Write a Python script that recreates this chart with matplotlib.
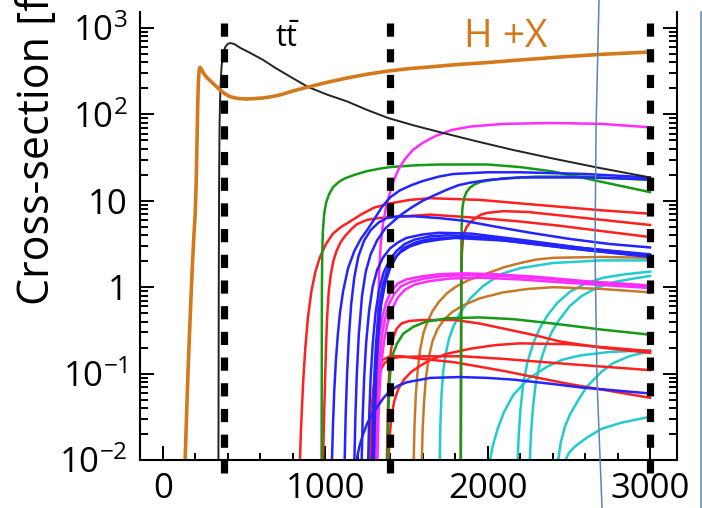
import numpy as np
import matplotlib
matplotlib.use("Agg")
import matplotlib.pyplot as plt
from matplotlib import font_manager
from matplotlib.lines import Line2D
from matplotlib.ticker import FixedLocator, LogLocator, NullFormatter

# fonts: a narrow humanist sans if it is there
names = {f.name for f in font_manager.fontManager.ttflist}
family = 'Liberation Sans Narrow' if 'Liberation Sans Narrow' in names else 'Open Sans'
plt.rcParams['font.family'] = [family, 'DejaVu Sans']
plt.rcParams['mathtext.fontset'] = 'custom'
plt.rcParams['mathtext.rm'] = family
plt.rcParams['mathtext.it'] = family
plt.rcParams['lines.scale_dashes'] = False

# ---- data: (energy [GeV], log10 cross-section [fb]) ----
hx = [(138, -2), (150, -1.3), (157, -0.92), (170, -0.3), (182, 0.23), (192, 0.6),
      (200, 0.85), (206, 1.2), (212, 1.78), (216, 2.15), (220, 2.40), (225, 2.52),
      (230, 2.545), (238, 2.525), (250, 2.48), (270, 2.43), (292, 2.39), (320, 2.34),
      (354, 2.28), (385, 2.235), (415, 2.205), (460, 2.185), (508, 2.178), (560, 2.182),
      (618, 2.19), (670, 2.205), (723, 2.225), (800, 2.27), (895, 2.317), (1010, 2.37),
      (1135, 2.421), (1260, 2.465), (1388, 2.502), (1520, 2.53), (1646, 2.549),
      (1800, 2.575), (2000, 2.60), (2200, 2.63), (2446, 2.664), (2700, 2.695), (3000, 2.722)]

tt = [(343, -2), (345, 0), (347, 1.2), (350, 1.9), (355, 2.3), (362, 2.55), (372, 2.7),
      (385, 2.78), (400, 2.815), (415, 2.826), (440, 2.815), (477, 2.77), (540, 2.71),
      (618, 2.63), (700, 2.53), (800, 2.42), (895, 2.317), (1010, 2.23), (1135, 2.15),
      (1260, 2.05), (1388, 1.958), (1550, 1.87), (1726, 1.785), (1940, 1.685),
      (2157, 1.588), (2400, 1.49), (2662, 1.39), (3000, 1.27)]

green1 = [(978, -2), (979, -1), (980, 0), (982, 0.4), (986, 0.65), (994, 0.85), (1006, 0.98),
          (1025, 1.08), (1050, 1.16), (1085, 1.22), (1122, 1.26), (1180, 1.30), (1250, 1.34),
          (1330, 1.37), (1400, 1.39), (1550, 1.41), (1700, 1.42), (2000, 1.42), (2200, 1.39),
          (2400, 1.34), (2700, 1.22), (3000, 1.10)]
green2 = [(1835, -2), (1837, -0.5), (1838, 0.3), (1840, 0.7), (1845, 0.92), (1855, 1.03),
          (1870, 1.10), (1890, 1.15), (1920, 1.19), (1960, 1.22), (2020, 1.24), (2096, 1.26),
          (2300, 1.28), (2600, 1.28), (3000, 1.24)]
green3 = [(1385, -2), (1390, -1.4), (1396, -1.1), (1405, -0.9), (1420, -0.76), (1443, -0.65),
          (1480, -0.54), (1541, -0.46), (1620, -0.40), (1751, -0.36), (1950, -0.35),
          (2158, -0.37), (2400, -0.42), (2700, -0.49), (3000, -0.55)]

magenta1 = [(1305, -2), (1312, -1.2), (1320, -0.6), (1327, -0.2), (1333, 0.2), (1342, 0.5),
            (1355, 0.72), (1372, 0.90), (1395, 1.07), (1420, 1.22), (1450, 1.36),
            (1490, 1.48), (1541, 1.59), (1600, 1.67), (1680, 1.75), (1780, 1.82),
            (1900, 1.86), (2100, 1.89), (2400, 1.90), (2700, 1.89), (3000, 1.85)]
magenta2 = [(1300, -2), (1305, -1.5), (1312, -1.1), (1322, -0.8), (1335, -0.55),
            (1352, -0.35), (1375, -0.18), (1405, -0.05), (1445, 0.04), (1500, 0.09),
            (1580, 0.12), (1700, 0.15), (1850, 0.16), (2050, 0.15), (2300, 0.12),
            (2600, 0.07), (3000, 0.02)]
magenta3 = [(1312, -2), (1317, -1.5), (1325, -1.1), (1336, -0.8), (1350, -0.56),
            (1368, -0.37), (1392, -0.2), (1425, -0.08), (1467, 0.01), (1525, 0.06),
            (1610, 0.10), (1730, 0.13), (1900, 0.14), (2100, 0.13), (2350, 0.10),
            (2650, 0.05), (3000, 0.01)]
magenta4 = [(1322, -2), (1328, -1.5), (1337, -1.1), (1349, -0.82), (1365, -0.6),
            (1385, -0.41), (1412, -0.25), (1447, -0.12), (1490, -0.03), (1550, 0.03),
            (1640, 0.07), (1770, 0.10), (1950, 0.11), (2200, 0.09), (2500, 0.05),
            (3000, -0.01)]

red1 = [(845, -2), (850, -1.7), (857, -1.4), (866, -1.05), (878, -0.7), (894, -0.35),
        (915, -0.05), (940, 0.18), (968, 0.35), (1005, 0.50), (1048, 0.62), (1100, 0.70),
        (1153, 0.76), (1220, 0.84), (1300, 0.92), (1400, 0.97), (1520, 1.01), (1646, 1.03),
        (1954, 1.01), (2200, 0.97), (2448, 0.93), (2700, 0.89), (3000, 0.85)]
red2 = [(987, -2), (992, -1.6), (999, -1.1), (1005, -0.7), (1012, -0.35), (1022, -0.05),
        (1035, 0.15), (1050, 0.30), (1070, 0.42), (1095, 0.52), (1122, 0.59), (1160, 0.67),
        (1196, 0.73), (1260, 0.78), (1330, 0.80), (1400, 0.81), (1646, 0.84), (1954, 0.80),
        (2200, 0.76), (2448, 0.71), (2700, 0.65), (3000, 0.58)]
red3 = [(1835, -2), (1837, -0.5), (1839, 0.1), (1842, 0.4), (1848, 0.55), (1858, 0.64),
        (1872, 0.70), (1893, 0.75), (1925, 0.80), (1960, 0.84), (1998, 0.86), (2096, 0.88),
        (2250, 0.87), (2400, 0.84), (2700, 0.78), (3000, 0.72)]
red4 = [(1380, -2), (1385, -1.5), (1390, -1.15), (1397, -0.9), (1406, -0.72), (1420, -0.58),
        (1440, -0.48), (1470, -0.42), (1520, -0.39), (1600, -0.38), (1800, -0.38),
        (1950, -0.42), (2100, -0.48), (2300, -0.56), (2450, -0.63), (2700, -0.70),
        (3000, -0.76)]
red5 = [(1285, -2), (1289, -1.7), (1295, -1.45), (1305, -1.25), (1320, -1.08), (1340, -0.96),
        (1365, -0.88), (1400, -0.83), (1450, -0.81), (1600, -0.80), (1850, -0.80),
        (2100, -0.83), (2500, -0.89), (3000, -0.96)]
red6 = [(1390, -2), (1396, -1.75), (1408, -1.5), (1425, -1.32), (1450, -1.18), (1485, -1.07),
        (1530, -0.98), (1585, -0.91), (1650, -0.84), (1750, -0.77), (1900, -0.71),
        (2050, -0.67), (2200, -0.65), (2500, -0.66), (3000, -0.74)]
red7 = [(1275, -2), (1279, -1.7), (1286, -1.4), (1296, -1.18), (1310, -1.02), (1330, -0.91),
        (1355, -0.84), (1400, -0.80), (1470, -0.80), (1550, -0.82), (1800, -0.87),
        (2100, -0.97), (2500, -1.12), (3000, -1.28)]

blue1 = [(1042, -2), (1048, -1.6), (1056, -1.2), (1066, -0.85), (1078, -0.55), (1091, -0.30),
         (1110, -0.05), (1141, 0.22), (1180, 0.42), (1220, 0.56), (1258, 0.66), (1300, 0.78),
         (1350, 0.93), (1400, 1.04), (1460, 1.12), (1530, 1.18), (1603, 1.23), (1700, 1.28),
         (1788, 1.31), (2000, 1.33), (2201, 1.33), (2600, 1.31), (3000, 1.27)]
blue2 = [(1180, -2), (1186, -1.5), (1195, -1.0), (1207, -0.55), (1227, -0.1), (1250, 0.18),
         (1280, 0.38), (1319, 0.54), (1370, 0.68), (1461, 0.83), (1530, 0.92), (1600, 1.0),
         (1680, 1.07), (1739, 1.12), (1820, 1.18), (1893, 1.21), (2000, 1.24), (2201, 1.27),
         (2600, 1.27), (3000, 1.25)]
blue3 = [(1120, -2), (1126, -1.5), (1135, -1.0), (1147, -0.55), (1160, -0.2), (1180, 0.12),
         (1205, 0.36), (1240, 0.54), (1280, 0.66), (1330, 0.75), (1380, 0.80), (1450, 0.82),
         (1550, 0.82), (1700, 0.80), (1850, 0.77), (2050, 0.70), (2263, 0.63), (2500, 0.56),
         (2750, 0.50), (3000, 0.46)]
blue4 = [(1225, -2), (1231, -1.5), (1240, -1.05), (1252, -0.65), (1270, -0.28), (1292, 0.0),
         (1320, 0.20), (1355, 0.34), (1400, 0.45), (1450, 0.52), (1500, 0.57), (1600, 0.61),
         (1700, 0.63), (1900, 0.62), (2200, 0.55), (2600, 0.45), (3000, 0.38)]
blue5 = [(1265, -2), (1271, -1.5), (1280, -1.05), (1293, -0.65), (1310, -0.3), (1333, -0.02),
         (1360, 0.17), (1395, 0.31), (1440, 0.42), (1490, 0.50), (1550, 0.55), (1650, 0.59),
         (1750, 0.60), (2000, 0.58), (2400, 0.49), (3000, 0.37)]
blue6 = [(1290, -2), (1295, -1.5), (1302, -1.05), (1313, -0.65), (1330, -0.28), (1352, 0.0),
         (1380, 0.18), (1415, 0.31), (1460, 0.40), (1520, 0.47), (1600, 0.52), (1700, 0.55),
         (1800, 0.57), (2100, 0.54), (2500, 0.45), (3000, 0.36)]
blue7 = [(1300, -2), (1306, -1.5), (1315, -0.95), (1328, -0.55), (1345, -0.2), (1370, 0.05),
         (1400, 0.22), (1440, 0.36), (1480, 0.45), (1560, 0.52), (1650, 0.56), (1900, 0.58),
         (2200, 0.52), (2600, 0.43), (3000, 0.35)]
blue8 = [(1195, -2), (1199, -1.95), (1210, -1.85), (1230, -1.72), (1258, -1.58), (1290, -1.47),
         (1319, -1.39), (1360, -1.28), (1400, -1.20), (1450, -1.14), (1504, -1.10),
         (1646, -1.05), (1831, -1.04), (2000, -1.05), (2158, -1.07), (2400, -1.12),
         (2571, -1.16), (3000, -1.23)]

brown1 = [(1545, -2), (1550, -1.6), (1558, -1.25), (1570, -0.95), (1585, -0.72), (1605, -0.53),
          (1630, -0.40), (1660, -0.28), (1700, -0.17), (1750, -0.07), (1800, 0.0),
          (1880, 0.08), (1998, 0.16), (2100, 0.23), (2201, 0.28), (2300, 0.32), (2404, 0.34),
          (2700, 0.35), (3000, 0.34)]
brown2 = [(1595, -2), (1600, -1.65), (1608, -1.35), (1620, -1.05), (1637, -0.82),
          (1660, -0.63), (1690, -0.49), (1730, -0.38), (1780, -0.29), (1850, -0.21),
          (1950, -0.13), (2096, -0.06), (2250, -0.02), (2404, 0.0), (2700, -0.02),
          (3000, -0.06)]

cyan1 = [(1705, -2), (1709, -1.6), (1716, -1.25), (1727, -0.97), (1742, -0.77), (1762, -0.6),
         (1788, -0.46), (1830, -0.30), (1893, -0.13), (1970, 0.01), (2040, 0.10),
         (2096, 0.16), (2200, 0.22), (2404, 0.28), (2700, 0.31), (3000, 0.31)]
cyan2 = [(2185, -2), (2192, -1.7), (2202, -1.42), (2219, -1.12), (2245, -0.87), (2281, -0.65),
         (2320, -0.48), (2367, -0.33), (2430, -0.18), (2509, -0.05), (2600, 0.04),
         (2713, 0.11), (2850, 0.15), (3000, 0.18)]
cyan3 = [(2260, -2), (2267, -1.7), (2278, -1.42), (2295, -1.13), (2322, -0.88), (2355, -0.69),
         (2395, -0.52), (2440, -0.38), (2505, -0.22), (2580, -0.10), (2680, 0.0),
         (2780, 0.06), (2900, 0.10), (3000, 0.13)]
cyan4 = [(2015, -2), (2030, -1.85), (2060, -1.65), (2100, -1.45), (2157, -1.25), (2250, -1.06),
         (2366, -0.92), (2460, -0.84), (2569, -0.79), (2750, -0.75), (3000, -0.73)]
cyan5 = [(2435, -2), (2450, -1.8), (2475, -1.62), (2505, -1.48), (2560, -1.3), (2612, -1.15),
         (2700, -0.98), (2772, -0.88), (2870, -0.8), (3000, -0.74)]
cyan6 = [(2480, -2), (2500, -1.92), (2540, -1.84), (2612, -1.74), (2700, -1.64),
         (2820, -1.57), (3000, -1.50)]

stages = [375, 1400, 3000]
ytick_vals = [1e-2, 1e-1, 1, 10, 1e2, 1e3]
ytick_labels = ['$10^{-2}$', '$10^{-1}$', '1', '10', '$10^{2}$', '$10^{3}$']
xtick_vals = [0, 1000, 2000, 3000]

RED, BLUE, GREEN = '#ff2020', '#2424ff', '#169a16'
MAG, CYAN, BROWN = '#ff2cff', '#22cccc', '#c87828'
ORANGE = '#d4781c'

curves = [
    (cyan1, CYAN), (cyan2, CYAN), (cyan3, CYAN), (cyan4, CYAN), (cyan5, CYAN), (cyan6, CYAN),
    (brown1, BROWN), (brown2, BROWN),
    (red1, RED), (red2, RED), (red3, RED), (red4, RED), (red5, RED), (red6, RED), (red7, RED),
    (green1, GREEN), (green2, GREEN), (green3, GREEN),
    (magenta1, MAG), (magenta2, MAG), (magenta3, MAG), (magenta4, MAG),
    (blue1, BLUE), (blue2, BLUE), (blue3, BLUE), (blue4, BLUE), (blue5, BLUE),
    (blue6, BLUE), (blue7, BLUE), (blue8, BLUE),
]


def draw(ax, pts, **kw):
    e, lg = zip(*pts)
    ax.plot(e, 10 ** np.array(lg), **kw)


fig = plt.figure(figsize=(7.02, 5.08), dpi=100)
ax = fig.add_axes([0.1994, 0.0945, 0.765, 0.8819])

for pts, col in curves:
    draw(ax, pts, color=col, lw=1.8)

draw(ax, tt, color='#222222', lw=1.4)
draw(ax, hx, color=ORANGE, lw=2.6)

for s in stages:
    ax.plot([s, s], [-0.03, 0.99], color='black', lw=5.2, dashes=(9.5, 9.0),
            transform=ax.get_xaxis_transform(), clip_on=False, dash_capstyle='butt')

ax.text(766, 10 ** 2.88, r'$\mathrm{t\bar{t}}$', fontsize=22, ha='center', va='center')
ax.text(2110, 10 ** 2.90, 'H +X', fontsize=28, color=ORANGE, ha='center', va='center')

ax.set_yscale('log')
ax.set_xlim(-140, 3166)
ax.set_ylim(1e-2, 10 ** 3.185)
ax.yaxis.set_major_locator(FixedLocator(ytick_vals))
ax.set_yticklabels(ytick_labels)
ax.yaxis.set_minor_locator(LogLocator(base=10, subs=np.arange(2, 10)))
ax.yaxis.set_minor_formatter(NullFormatter())
ax.set_xticks(xtick_vals)
ax.set_xticklabels([str(v) for v in xtick_vals])
ax.xaxis.set_minor_locator(FixedLocator(np.arange(-200, 3200, 200)))

ax.tick_params(axis='both', which='both', direction='in', width=1.4, labelsize=25)
ax.tick_params(axis='y', which='major', length=10, right=True, pad=9)
ax.tick_params(axis='y', which='minor', length=5.5, right=True)
ax.tick_params(axis='x', which='major', length=10, top=False, pad=9)
ax.tick_params(axis='x', which='minor', length=5, top=False)
ax.spines['top'].set_visible(False)
for side in ['left', 'right', 'bottom']:
    ax.spines[side].set_linewidth(1.5)

# the reference crops this label at the top edge
fig.text(38 / 702, 1 - 305 / 508, 'Cross-section [fb]', rotation=90, fontsize=31,
         ha='center', va='bottom')

# thin bluish outline pieces at the right of the picture
W, H = 702.0, 508.0
arc_x = [599, 596, 595, 597, 602]
arc_y = [0, 130, 250, 380, 508]
fig.add_artist(Line2D([x / W for x in arc_x], [1 - y / H for y in arc_y],
                      color='#5a84b3', lw=1.1, transform=fig.transFigure))
fig.add_artist(Line2D([700.5 / W, 700.5 / W], [1 - 12 / H, 0], color='#5a84b3',
                      lw=1.1, transform=fig.transFigure))

fig.savefig('out.png', dpi=100)
